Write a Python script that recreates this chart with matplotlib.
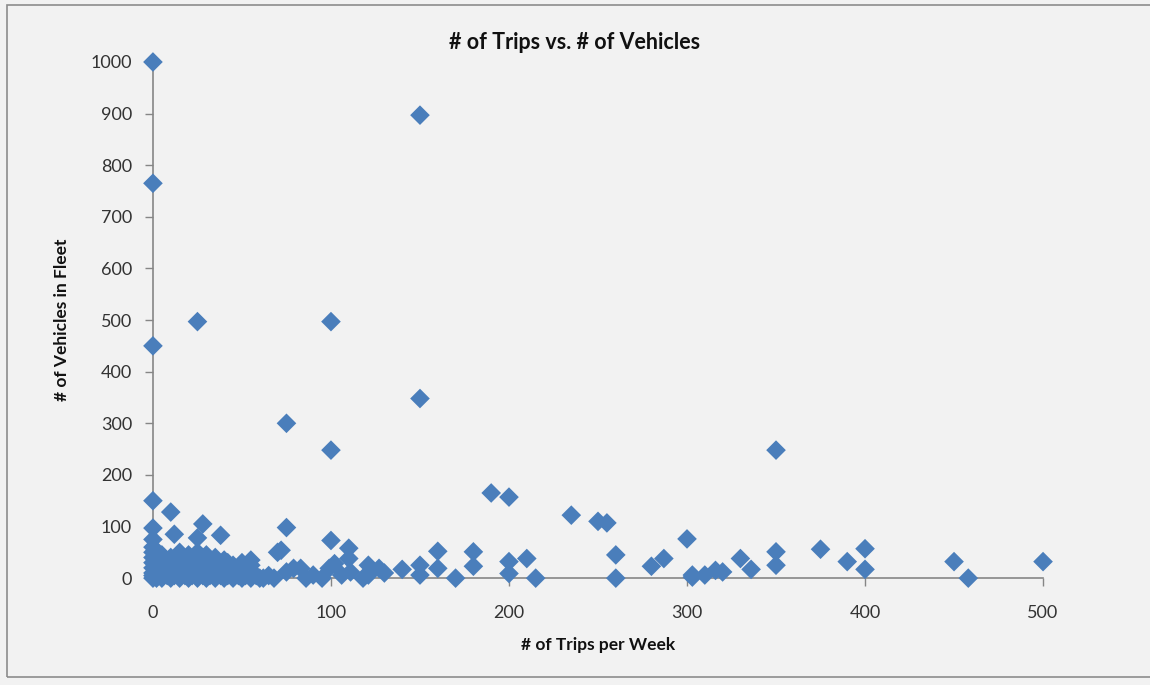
import matplotlib.pyplot as plt
from matplotlib.patches import Rectangle

# sparse points (trips per week, vehicles in fleet)
trips_sparse = [0, 0, 0, 150, 25, 100, 150, 75, 100, 350,
                0, 10, 28, 12, 38, 25, 0, 75, 100, 110, 70,
                190, 200, 235, 250, 255, 300,
                140, 150, 150, 160, 160, 170, 180, 180, 200, 200, 210, 215,
                260, 260, 280, 287, 303, 303, 310, 316, 320, 330, 336, 350, 350,
                375, 390, 400, 400, 450, 458, 500]
vehicles_sparse = [1000, 765, 450, 897, 497, 497, 348, 300, 248, 248,
                   150, 128, 105, 85, 83, 78, 97, 98, 73, 58, 50,
                   165, 157, 122, 110, 107, 76,
                   17, 25, 6, 52, 19, 0, 51, 23, 32, 9, 38, 0,
                   45, 0, 23, 38, 6, 2, 6, 15, 12, 38, 17, 51, 25,
                   56, 32, 57, 17, 32, 0, 32]

# mid-range points between 60 and 130 trips
trips_mid = [72, 75, 79, 83, 90, 99, 102, 106, 110, 111, 121, 121, 127, 130, 118, 95, 86, 65, 62, 68]
vehicles_mid = [54, 12, 19, 19, 6, 19, 28, 6, 38, 12, 25, 6, 19, 10, 0, 0, 0, 5, 0, 0]

# dense cluster near the origin
trips_dense = [0, 0, 0, 0, 0, 0, 0, 0, 0,
               2, 2, 2, 5, 5, 5, 5, 8, 8, 8, 10, 10, 10, 10, 12, 12,
               15, 15, 15, 15, 15, 18, 18, 18, 20, 20, 20, 20, 22, 22, 22,
               25, 25, 25, 25, 25, 28, 28, 28, 30, 30, 30, 30, 32, 32, 32,
               35, 35, 35, 35, 35, 38, 38, 38, 40, 40, 40, 40, 42, 42, 42,
               45, 45, 45, 45, 48, 48, 50, 50, 50, 50, 52, 52, 55, 55, 55, 55, 58, 60]
vehicles_dense = [0, 5, 10, 20, 30, 40, 50, 60, 75,
                  0, 15, 35, 0, 10, 25, 45, 5, 20, 30, 0, 10, 15, 40, 5, 25,
                  0, 10, 20, 35, 50, 5, 15, 30, 0, 10, 25, 45, 5, 20, 35,
                  0, 10, 15, 30, 50, 5, 20, 40, 0, 10, 25, 45, 5, 15, 35,
                  0, 10, 20, 30, 40, 5, 15, 25, 0, 10, 20, 35, 5, 15, 30,
                  0, 10, 20, 25, 5, 15, 0, 10, 20, 30, 5, 15, 0, 10, 25, 35, 5, 0]

x_ticks = [0, 100, 200, 300, 400, 500]
y_ticks = [0, 100, 200, 300, 400, 500, 600, 700, 800, 900, 1000]

plt.rcParams['font.family'] = ['Lato', 'DejaVu Sans']

fig = plt.figure(figsize=(11.5, 6.85), dpi=100)
fig.patch.set_facecolor('#f2f2f2')
fig.patches.append(Rectangle((7 / 1150, 8 / 685), 1150, 672 / 685, transform=fig.transFigure,
                             fill=False, edgecolor='#8c8c8c', linewidth=1.2))

ax = fig.add_axes([0.133, 0.156, 0.774, 0.7535])
ax.set_facecolor('#f2f2f2')

trips = trips_dense + trips_mid + trips_sparse
vehicles = vehicles_dense + vehicles_mid + vehicles_sparse
ax.scatter(trips, vehicles, marker='D', s=100, color='#4a7ebb', edgecolors='none',
           zorder=3, clip_on=False)

ax.set_xlim(0, 500)
ax.set_ylim(0, 1000)
ax.set_xticks(x_ticks)
ax.set_yticks(y_ticks)
for side in ['top', 'right']:
    ax.spines[side].set_visible(False)
for side in ['left', 'bottom']:
    ax.spines[side].set_color('#868686')
    ax.spines[side].set_linewidth(1.2)
ax.tick_params(axis='x', direction='out', length=6, width=1, color='#868686',
               pad=13, labelsize=13, labelcolor='#333333')
ax.tick_params(axis='y', direction='out', length=6, width=1, color='#868686',
               pad=9, labelsize=13, labelcolor='#333333')

fig.text(0.5, 0.938, '# of Trips vs. # of Vehicles', ha='center', va='center',
         fontsize=15.5, fontweight='bold', color='#111111')
fig.text(0.52, 0.058, '# of Trips per Week', ha='center', va='center',
         fontsize=12.5, fontweight='bold', color='#111111')
fig.text(0.054, 0.533, '# of Vehicles in Fleet', ha='center', va='center', rotation=90,
         fontsize=12.5, fontweight='bold', color='#111111')

plt.savefig('out.png', dpi=100, facecolor=fig.get_facecolor())
plt.close()
